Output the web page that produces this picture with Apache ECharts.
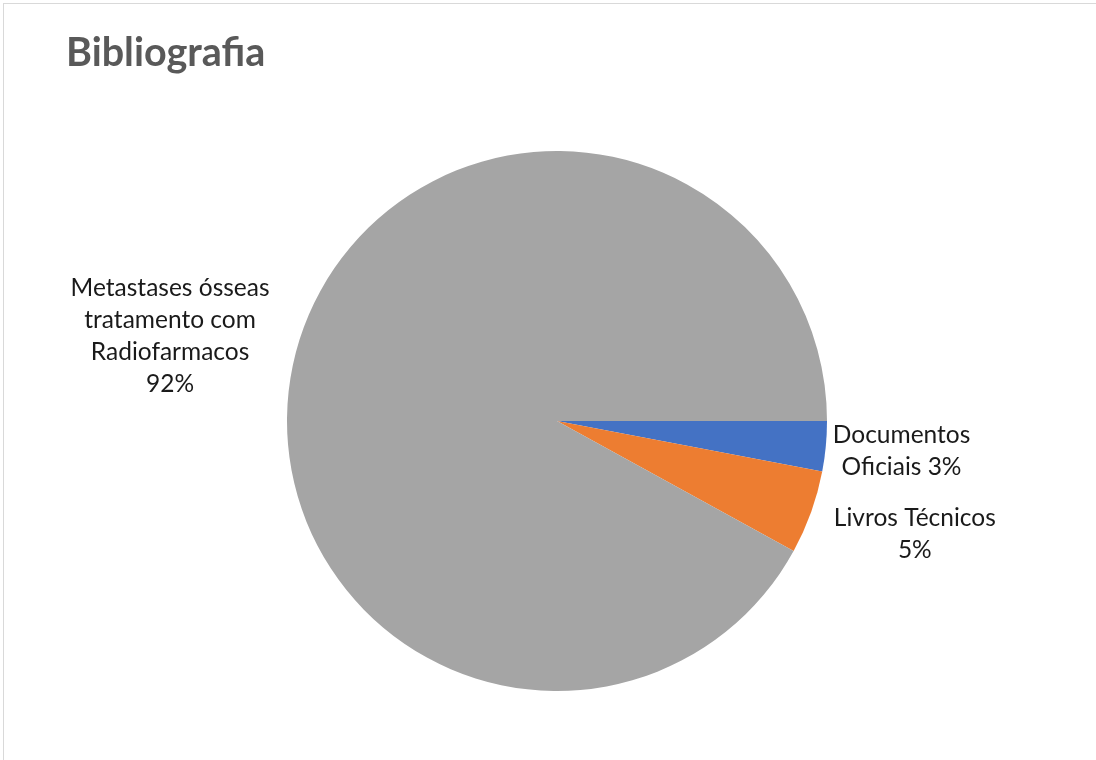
<!DOCTYPE html>
<html>
<head>
<meta charset="utf-8">
<script src="https://cdn.jsdelivr.net/npm/echarts@6/dist/echarts.min.js"></script>
<style>
html,body{margin:0;padding:0;background:#fff;}
#frame{position:absolute;left:3px;top:3px;width:1100px;height:760px;border-left:1px solid #d9d9d9;border-top:1px solid #d9d9d9;}
#chart{position:absolute;left:0;top:0;width:1096px;height:760px;}
</style>
</head>
<body>
<div id="frame"></div>
<div id="chart"></div>
<script>
const categories = ["Documentos Oficiais", "Livros Técnicos", "Metastases ósseas tratamento com Radiofarmacos"];
const labelLines = ["Documentos\nOficiais", "Livros Técnicos\n", "Metastases ósseas\ntratamento com\nRadiofarmacos\n"];
const values = [3, 5, 92];
const colors = ["#4472C4", "#ED7D31", "#A5A5A5"];

const chart = echarts.init(document.getElementById('chart'), null, {renderer: 'canvas'});
const FONT = 'Lato';
// best-fit style label nudges (layout only)
const LABEL_NUDGE = [[-1, 4], [15, 21], [-18, -17]];
chart.setOption({
  animation: false,
  title: {
    text: 'Bibliografia',
    left: 61, top: 28,
    textStyle: {fontFamily: FONT, fontWeight: 'bold', fontSize: 39.5, color: '#595959'}
  },
  series: [{
    type: 'pie',
    center: [557, 421],
    radius: 270,
    startAngle: 0,
    clockwise: true,
    itemStyle: {borderWidth: 0},
    emphasis: {disabled: true},
    label: {
      show: true,
      position: 'outside',
      fontFamily: FONT,
      fontSize: 24.5,
      lineHeight: 32,
      color: '#1a1a1a',
      formatter: function (p) {
        const t = labelLines[p.dataIndex];
        return t + (t.endsWith('\n') ? '' : ' ') + Math.round(p.percent) + '%';
      }
    },
    labelLine: {show: false, length: 3, length2: 0},
    labelLayout: function (p) {
      const r = p.labelRect;
      const n = LABEL_NUDGE[p.dataIndex] || [0, 0];
      return {x: r.x + r.width / 2 + n[0], y: r.y + r.height / 2 + n[1], align: 'center', verticalAlign: 'middle'};
    },
    data: categories.map((c, i) => ({name: c, value: values[i], itemStyle: {color: colors[i]}}))
  }]
});
</script>
</body>
</html>
